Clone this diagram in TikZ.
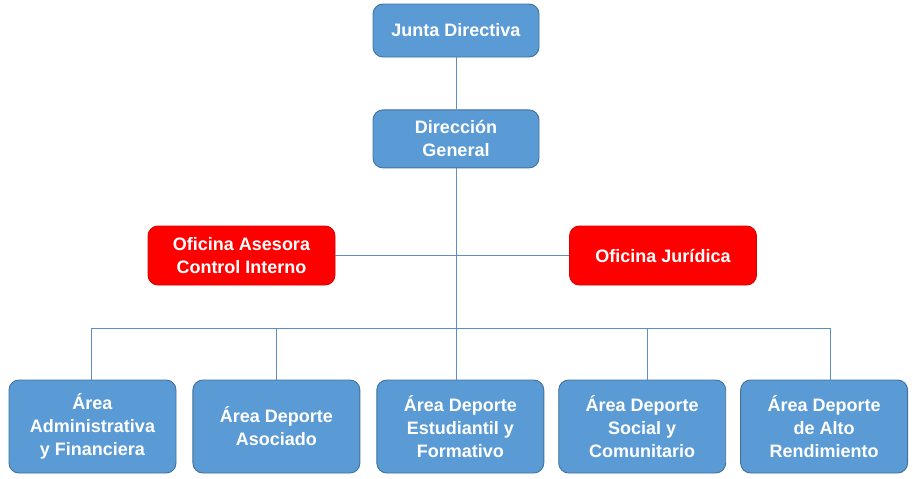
\documentclass[tikz,border=0pt]{standalone}
\usepackage{fontspec}
\setmainfont{Liberation Sans}
\usetikzlibrary{positioning}
\definecolor{azul}{HTML}{5B9BD5}
\definecolor{azulborde}{HTML}{41719C}
\definecolor{linea}{HTML}{5B8FC4}
\begin{document}
\begin{tikzpicture}[
  x=1pt, y=1pt,
  font=\fontsize{18}{23}\selectfont\bfseries,
  box/.style={draw, rounded corners=10pt, align=center, text=white, inner sep=2pt, line width=0.9pt},
  jefe/.style={box, fill=azul, draw=azulborde, minimum width=166pt},
  ofi/.style={box, fill=red, draw=red!85!black, minimum width=187pt, minimum height=59pt},
  area/.style={box, fill=azul, draw=azulborde, minimum width=167pt, minimum height=93pt},
  con/.style={draw=linea, line width=0.8pt}
]
\useasboundingbox (0,0) rectangle (913,-479);
\node[jefe, minimum height=53pt] (junta) at (456,-30.5) {Junta Directiva};
\node[jefe, minimum height=58pt, below=52pt of junta] (dir) {Dirección\\General};
\node[ofi] (asesora) at (241.5,-255.5) {Oficina Asesora\\Control Interno};
\node[ofi] (juridica) at (663,-255.5) {Oficina Jurídica};
\node[area] (adm) at (92.5,-426.5) {Área\\Administrativa\\y Financiera};
\node[area, right=16pt of adm] (asoc) {Área Deporte\\Asociado};
\node[area, right=16pt of asoc] (estud) {Área Deporte\\Estudiantil y\\Formativo};
\node[area, right=14pt of estud] (social) {Área Deporte\\Social y\\Comunitario};
\node[area, right=14pt of social] (alto) {Área Deporte\\de Alto\\Rendimiento};
% barra de las areas
\coordinate (b1) at (91.7,-328);
\coordinate (b2) at (276.3,-328);
\coordinate (b3) at (dir.south |- b1);
\coordinate (b4) at (647.7,-328);
\coordinate (b5) at (830,-328);
\draw[con] (junta) -- (dir);
\draw[con] (dir.south) -- (b3);
\draw[con] (asesora.east) -- (juridica.west);
\draw[con] (b1) -- (b5);
\draw[con] (b1) -- (b1 |- adm.north);
\draw[con] (b2) -- (b2 |- asoc.north);
\draw[con] (b3) -- (b3 |- estud.north);
\draw[con] (b4) -- (b4 |- social.north);
\draw[con] (b5) -- (b5 |- alto.north);
\end{tikzpicture}
\end{document}
